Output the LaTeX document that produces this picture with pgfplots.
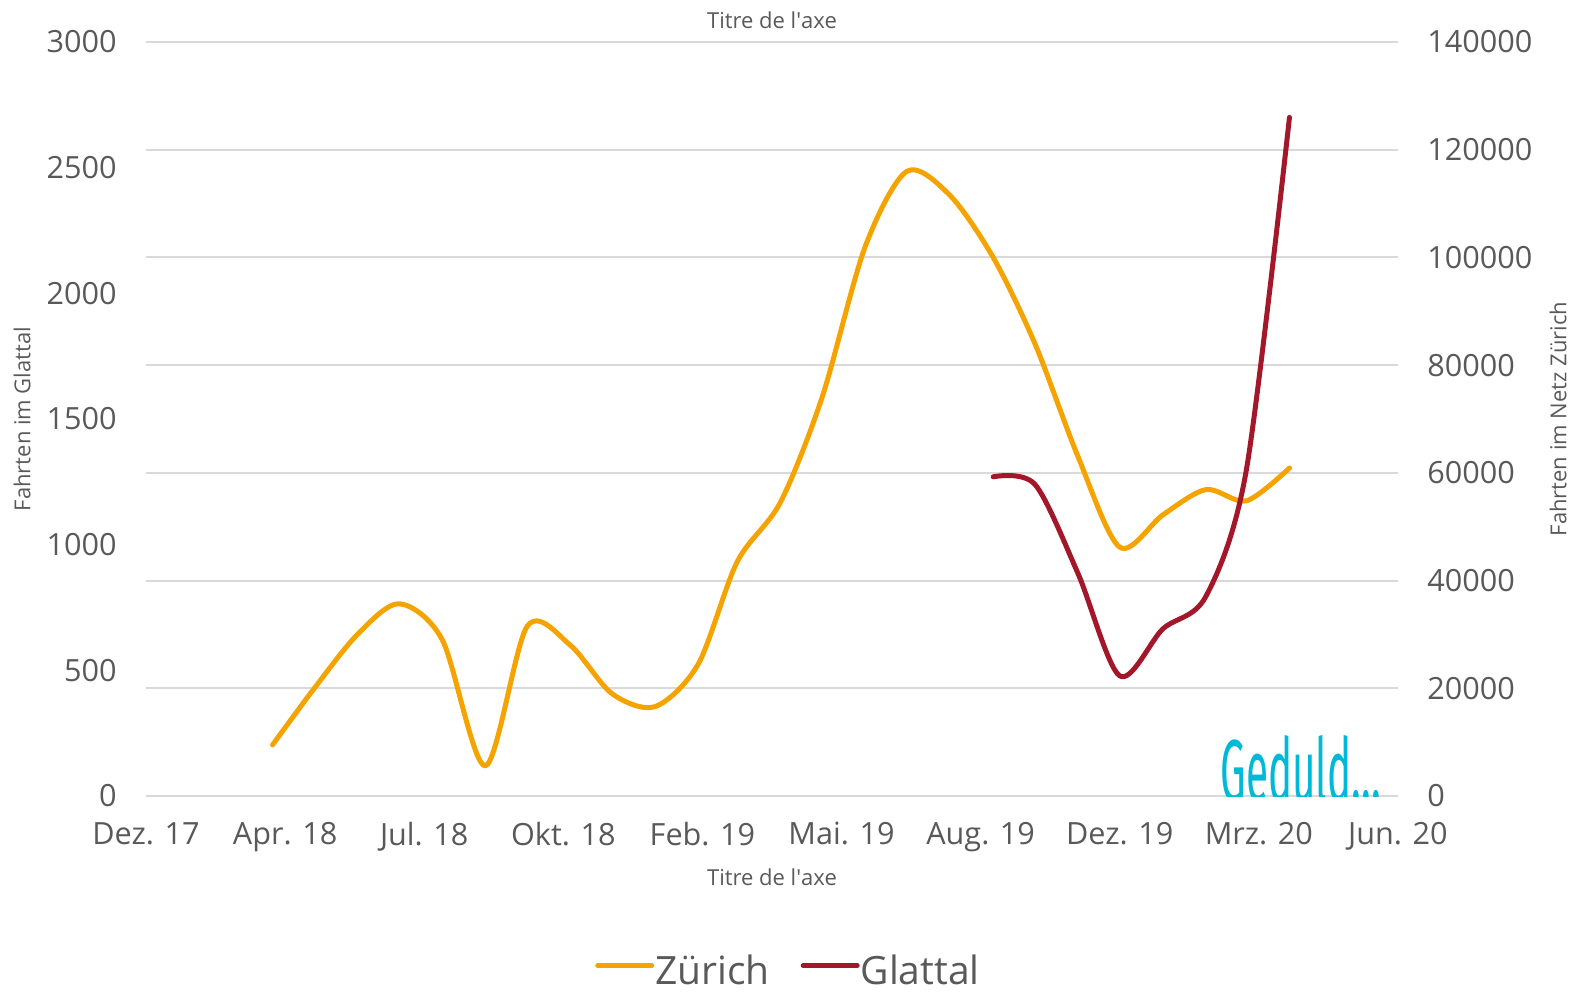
\documentclass[border=0pt]{standalone}
\usepackage{fontspec}
\setmainfont{Open Sans}
\newfontfamily\hand{Fira Sans}
\usepackage{pgfplots}
\usepackage{pgfplotstable}
\pgfplotsset{compat=1.18}

\definecolor{zur}{HTML}{F5A300}
\definecolor{gla}{HTML}{A3172B}
\definecolor{txt}{HTML}{595959}
\definecolor{grd}{HTML}{D9D9D9}
\definecolor{ged}{HTML}{00B9D8}

% day = days since 31 Dec 2017, values at the first of each month
\pgfplotstableread{
day  zurich
91   9500
121  20000
152  30000
182  35700
213  29000
244  5600
274  31500
305  28000
335  19000
366  16600
397  24500
425  43500
456  54500
486  74000
517  102000
547  116000
578  111500
609  100000
639  84000
670  63000
700  46200
731  52200
762  56900
791  54800
822  60900
}\zurichdata

\pgfplotstableread{
day  glattal
609  1270
639  1240
670  885
700  478
731  665
762  795
791  1297
822  2700
}\glattaldata

\tikzset{lbl/.style={text=txt, font=\fontsize{11}{13}\selectfont}}

\pgfplotsset{
  base/.style={
    scale only axis, width=626pt, height=377pt,
    at={(0pt,0pt)}, anchor=south west,
    xmin=0, xmax=900,
    major tick length=0pt, tick style={draw=none},
    axis line style={draw=none},
    ticklabel style={text=txt, font=\fontsize{15.3}{18}\selectfont},
    /pgf/number format/assume math mode=true,
    /pgf/number format/1000 sep={},
    /pgf/number format/fixed,
    scaled y ticks=false,
  },
}

\begin{document}
\begin{tikzpicture}
\path[use as bounding box] (-73pt,-98pt) rectangle (717.5pt,398pt);

% right axis: Zürich, carries the grid
\begin{axis}[base,
    axis y line*=right, axis x line*=bottom,
    ymin=0, ymax=140000, ytick={0,20000,...,140000},
    ymajorgrids, grid style={grd, line width=1pt},
    yticklabel style={inner sep=0pt, anchor=west, xshift=14.5pt},
    xtick={0,100,...,900},
    xticklabels={Dez. 17,Apr. 18,Jul. 18,Okt. 18,Feb. 19,Mai. 19,Aug. 19,Dez. 19,Mrz. 20,Jun. 20},
    xticklabel style={inner sep=0pt, anchor=north, yshift=-13pt},
    xlabel={Titre de l\textquotesingle axe},
    every axis x label/.style={at={(axis description cs:0.5,0)}, anchor=center, yshift=-40.5pt, lbl},
    ylabel={Fahrten im Netz Zürich},
    every axis y label/.style={at={(axis description cs:1.128,0.5)}, anchor=center, rotate=90, lbl},
]
\addplot[zur, line width=2.5pt, smooth, tension=0.5, line cap=round, line join=round]
  table[x=day, y=zurich] {\zurichdata};
\end{axis}

% left axis: Glattal
\begin{axis}[base,
    axis y line*=left, axis x line=none,
    ymin=0, ymax=3000, ytick={0,500,...,3000},
    yticklabel style={inner sep=0pt, anchor=east, xshift=-14.5pt},
    ylabel={Fahrten im Glattal},
    every axis y label/.style={at={(axis description cs:-0.099,0.5)}, anchor=center, rotate=90, lbl},
    title={Titre de l\textquotesingle axe},
    every axis title/.style={at={(axis description cs:0.5,1)}, anchor=center, yshift=11pt, lbl},
    legend style={at={(0.5,0)}, anchor=center, xshift=8pt, yshift=-87.5pt,
      draw=none, fill=none, text=txt, font=\fontsize{19.5}{23}\selectfont,
      nodes={inner sep=0.5pt},
      /tikz/every even column/.append style={column sep=15pt}},
    legend columns=2,
    legend image code/.code={\draw[#1, line width=2.5pt] (0pt,0.27em) -- (27pt,0.27em);},
]
\addlegendimage{zur, line cap=round}
\addlegendentry{Zürich}
\addplot[gla, line width=2.5pt, smooth, tension=0.5, line cap=round, line join=round]
  table[x=day, y=glattal] {\glattaldata};
\addlegendentry{Glattal}
\node[anchor=base west, inner sep=0pt, text=ged, font=\hand\fontsize{44}{48}\selectfont, yshift=-2.5pt]
  at (rel axis cs:0.858,0) {\scalebox{0.46}[1]{Geduld...}};
\end{axis}
\end{tikzpicture}
\end{document}
